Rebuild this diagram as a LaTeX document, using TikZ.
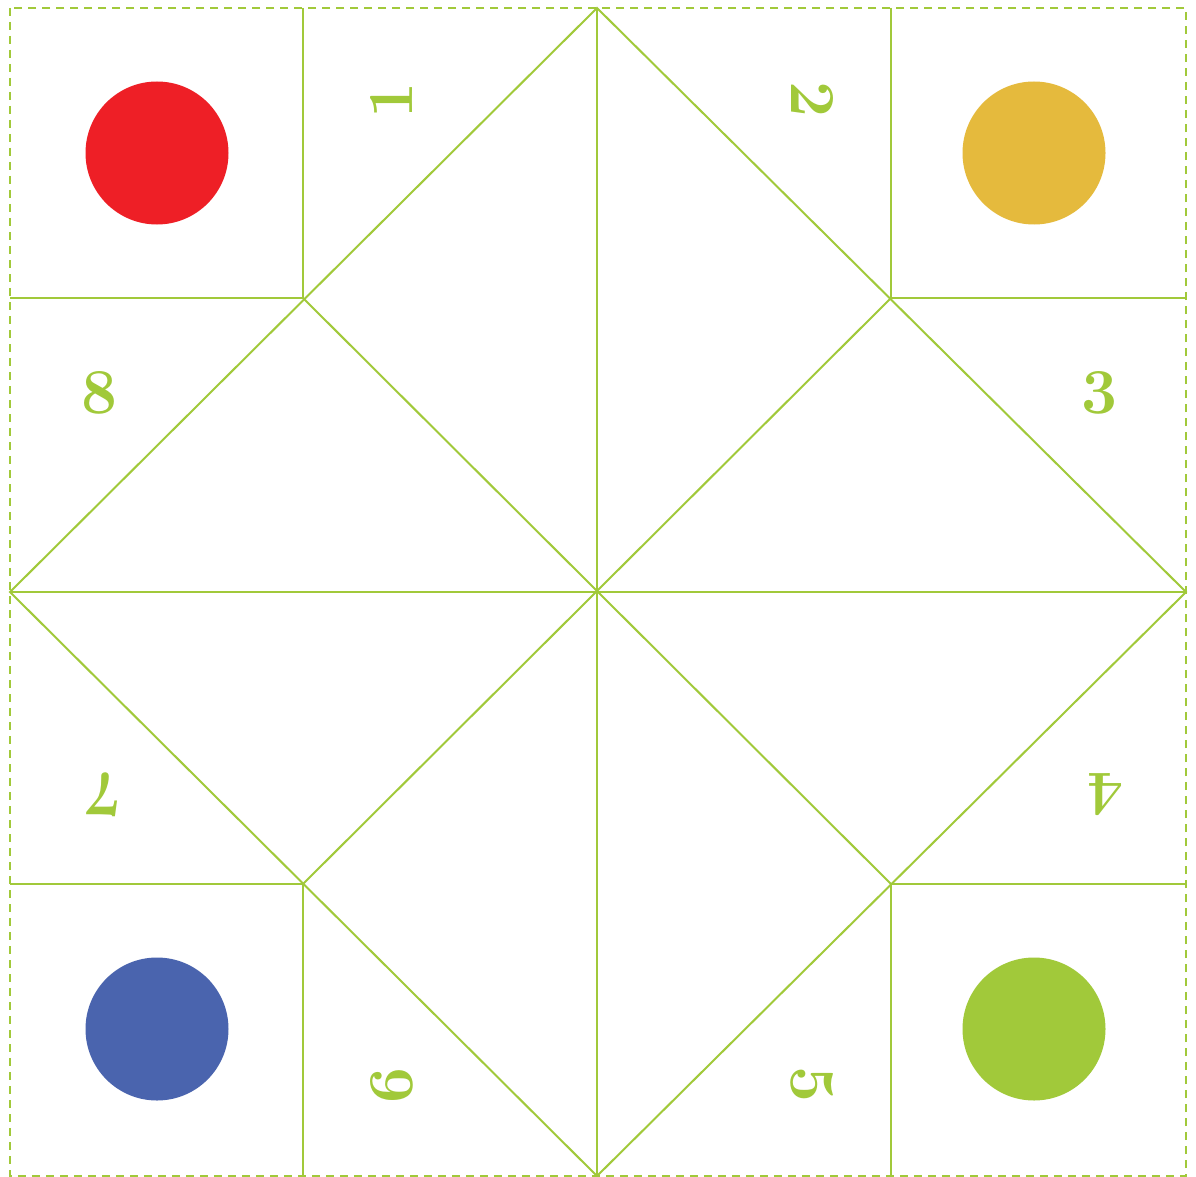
\documentclass[tikz,border=0pt]{standalone}
\definecolor{lgreen}{RGB}{161,201,58}
\definecolor{dred}{RGB}{238,31,38}
\definecolor{dorange}{RGB}{229,186,61}
\definecolor{dblue}{RGB}{74,100,174}
\definecolor{dgreen}{RGB}{161,201,58}
\begin{document}
\begin{tikzpicture}[x=1pt,y=-1pt,
  fold/.style={draw=lgreen,line width=2pt},
  cutline/.style={draw=lgreen,line width=2pt,dash pattern=on 8pt off 6pt},
  dot/.style={circle,minimum size=143pt,inner sep=0pt},
  num/.style={text=lgreen,font=\fontsize{64}{64}\selectfont\bfseries,inner sep=0pt}]
\useasboundingbox (0,0) rectangle (1196,1177);
\fill[white] (0,0) rectangle (1196,1177);
% key points
\coordinate (TL) at (10,8);
\coordinate (TR) at (1186,8);
\coordinate (BR) at (1186,1176);
\coordinate (BL) at (10,1176);
\coordinate (T) at (597,8);
\coordinate (B) at (597,1176);
\coordinate (L) at (10,592);
\coordinate (R) at (1186,592);
\coordinate (C) at (597,592);
\coordinate (a) at (303,298);
\coordinate (b) at (891,298);
\coordinate (c) at (891,884);
\coordinate (d) at (303,884);
\coordinate (aT) at (303,8);
\coordinate (bT) at (891,8);
\coordinate (aL) at (10,298);
\coordinate (bR) at (1186,298);
\coordinate (dL) at (10,884);
\coordinate (cR) at (1186,884);
\coordinate (dB) at (303,1176);
\coordinate (cB) at (891,1176);
% dashed outline
\draw[cutline] (TL) rectangle (BR);
% folds
\draw[fold] (aT) -- (a) -- (aL);
\draw[fold] (bT) -- (b) -- (bR);
\draw[fold] (dL) -- (d) -- (dB);
\draw[fold] (cR) -- (c) -- (cB);
\draw[fold] (T) -- (B);
\draw[fold] (L) -- (R);
\draw[fold] (T) -- (R) -- (B) -- (L) -- cycle;
\draw[fold] (a) -- (c);
\draw[fold] (b) -- (d);
% dots
\node[dot,fill=dred] (red) at (157,153) {};
\node[dot,fill=dorange] (orange) at (1034,153) {};
\node[dot,fill=dblue] (blue) at (157,1029) {};
\node[dot,fill=dgreen] (green) at (1034,1029) {};
% numbers
\node[num,rotate=90] (n1) at (392,100) {1};
\node[num,rotate=-90] (n2) at (812,100) {2};
\node[num] (n3) at (1100,393) {3};
\node[num,rotate=180] (n4) at (1105,795) {4};
\node[num,rotate=-90] (n5) at (812,1085) {5};
\node[num,rotate=90] (n6) at (392,1085) {6};
\node[num,rotate=180] (n7) at (103,795) {7};
\node[num] (n8) at (100,393) {8};
\end{tikzpicture}
\end{document}
